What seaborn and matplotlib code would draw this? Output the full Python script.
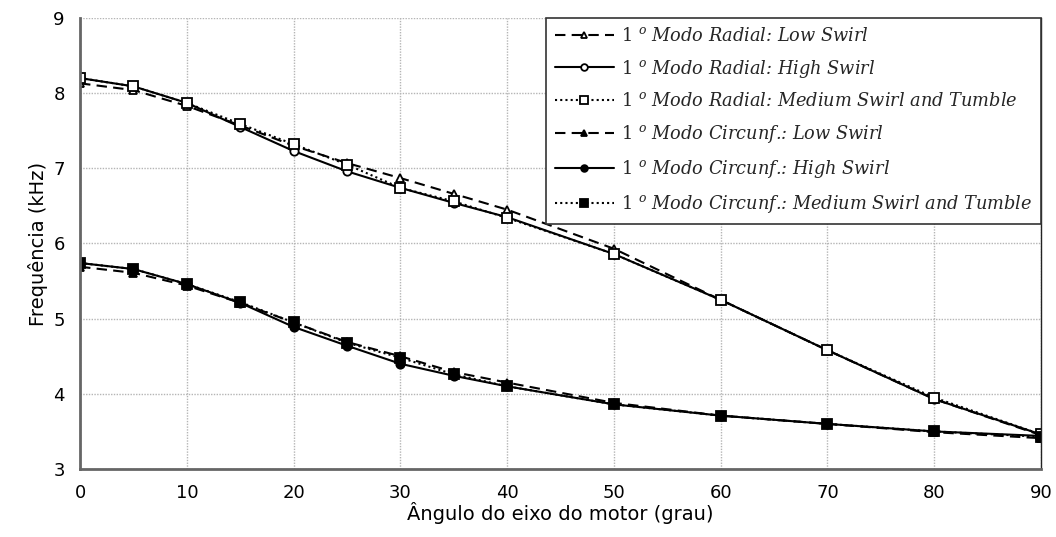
import numpy as np
import pandas as pd
import matplotlib
matplotlib.use("Agg")
import matplotlib.pyplot as plt
import seaborn as sns

angles = [0, 5, 10, 15, 20, 25, 30, 35, 40, 50, 60, 70, 80, 90]

radial_low = [8.13, 8.04, 7.83, 7.57, 7.30, 7.07, 6.87, 6.66, 6.45, 5.93, 5.25, 4.58, 3.93, 3.45]
radial_high = [8.20, 8.09, 7.87, 7.55, 7.23, 6.96, 6.74, 6.54, 6.35, 5.86, 5.25, 4.58, 3.93, 3.46]
radial_med = [8.20, 8.09, 7.87, 7.59, 7.32, 7.05, 6.74, 6.56, 6.34, 5.86, 5.25, 4.58, 3.95, 3.46]
circ_low = [5.69, 5.61, 5.44, 5.21, 4.95, 4.69, 4.50, 4.29, 4.15, 3.88, 3.71, 3.60, 3.49, 3.41]
circ_high = [5.74, 5.66, 5.46, 5.21, 4.89, 4.64, 4.40, 4.24, 4.10, 3.86, 3.71, 3.60, 3.50, 3.44]
circ_med = [5.74, 5.66, 5.46, 5.22, 4.95, 4.68, 4.48, 4.26, 4.10, 3.86, 3.71, 3.60, 3.50, 3.43]

labels = [
    r"$\mathit{1}\ ^{o}$ Modo Radial: Low Swirl",
    r"$\mathit{1}\ ^{o}$ Modo Radial: High Swirl",
    r"$\mathit{1}\ ^{o}$ Modo Radial: Medium Swirl and Tumble",
    r"$\mathit{1}\ ^{o}$ Modo Circunf.: Low Swirl",
    r"$\mathit{1}\ ^{o}$ Modo Circunf.: High Swirl",
    r"$\mathit{1}\ ^{o}$ Modo Circunf.: Medium Swirl and Tumble",
]
series = [radial_low, radial_high, radial_med, circ_low, circ_high, circ_med]

sns.set_style("white")
plt.rcParams["mathtext.fontset"] = "dejavuserif"

fig = plt.figure(figsize=(10.56, 5.37), dpi=100)
ax = fig.add_axes([0.0758, 0.1266, 0.91, 0.84])

styles = [
    dict(linestyle=(0, (5, 3)), marker="^", mfc="white", ms=5.5),
    dict(linestyle="-", marker="o", mfc="white", ms=6),
    dict(linestyle=(0, (1, 1.5)), marker="s", mfc="white", ms=7),
    dict(linestyle=(0, (5, 3)), marker="^", mfc="black", ms=5.5),
    dict(linestyle="-", marker="o", mfc="black", ms=6),
    dict(linestyle=(0, (1, 1.5)), marker="s", mfc="black", ms=7),
]

for vals, lab, st in zip(series, labels, styles):
    df = pd.DataFrame({"x": angles, "y": vals})
    sns.lineplot(data=df, x="x", y="y", ax=ax, color="black", lw=1.5,
                 linestyle=st["linestyle"], marker=st["marker"],
                 markerfacecolor=st["mfc"], markeredgecolor="black",
                 markeredgewidth=1.3, markersize=st["ms"], label=lab)

ax.set_xlim(0, 90)
ax.set_ylim(3, 9)
ax.set_xticks(range(0, 91, 10))
ax.set_xticks(range(5, 90, 10), minor=True)
ax.set_yticks(range(3, 10))
ax.set_yticks(np.arange(3.5, 9, 1.0), minor=True)
ax.grid(True, which="major", color="#b5b5b5", linestyle=(0, (1, 1)), linewidth=1)

ax.tick_params(axis="both", which="major", direction="inout", length=10, width=1.2,
               color="#555555", labelsize=13, pad=6, labelcolor="black")
ax.tick_params(axis="both", which="minor", direction="inout", length=6, width=1.0,
               color="#555555")
for s in ["left", "bottom"]:
    ax.spines[s].set_color("#666666")
    ax.spines[s].set_linewidth(2)
ax.spines["top"].set_visible(False)
ax.spines["right"].set_color("#222222")
ax.spines["right"].set_linewidth(1)

ax.set_xlabel("Ângulo do eixo do motor (grau)", fontsize=14, labelpad=0, color="black")
ax.set_ylabel("Frequência (kHz)", fontsize=14, labelpad=4, color="black")

leg = ax.legend(loc="upper right", bbox_to_anchor=(1.0, 1.0), frameon=True,
                fancybox=False, edgecolor="#333333", framealpha=1,
                prop={"family": "DejaVu Serif", "style": "italic", "size": 12.8},
                handlelength=3.3, labelspacing=0.72, borderpad=0.5,
                handletextpad=0.4, borderaxespad=0.0, markerscale=0.8)
leg.get_frame().set_linewidth(1.2)

fig.savefig("out.png", dpi=100)
